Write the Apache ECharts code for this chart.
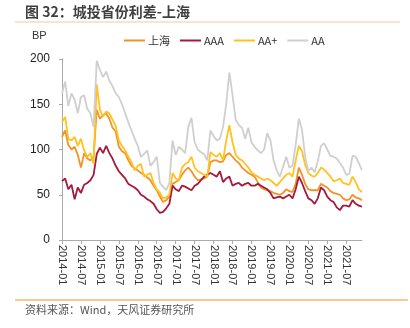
<!DOCTYPE html>
<html>
<head>
<meta charset="utf-8">
<script src="https://cdn.jsdelivr.net/npm/echarts@6/dist/echarts.min.js"></script>
<style>html,body{margin:0;padding:0;background:#fff;}#c{width:410px;height:328px;}</style>
</head>
<body>
<div id="c"></div>
<script>
// monthly categories 2014-01 .. 2021-12
const months = [];
for (let y = 2014; y <= 2021; y++) for (let m = 1; m <= 12; m++) months.push(y + '-' + (m < 10 ? '0' + m : m));

const seriesNames = ['上海', 'AAA', 'AA+', 'AA'];

const shanghai = [114,121,105,100,103,94,80,96,90,88,92,144,134,138,140,134,124,120,103,98,96,88,82,79,
  77,74,72,69,66,60,55,48,42,44,48,62,64,66,72,77,80,76,70,66,67,68,70,86,
  88,88,86,87,94,96,92,88,85,80,77,74,72,70,64,58,56,55,54,52,51,50,52,56,
  54,53,62,80,72,62,56,55,55,55,62,60,58,54,52,51,50,46,44,45,50,47,46,44];

const aaa = [65,68,56,61,45,58,52,61,63,66,72,95,102,96,104,96,90,82,76,72,68,62,60,58,
  55,50,48,45,43,40,34,30,31,35,40,60,56,54,60,59,57,55,60,62,66,70,72,74,
  72,70,76,64,68,70,60,62,63,60,62,63,60,60,62,60,58,56,52,46,47,48,46,48,
  50,46,56,70,63,54,46,44,40,46,58,55,48,44,42,36,33,38,38,37,44,40,38,37];

const aaPlus = [130,136,112,110,114,104,112,99,92,96,84,172,144,136,142,140,133,126,110,104,99,92,86,77,
  82,84,70,72,74,63,56,52,46,47,50,74,68,66,80,84,86,92,80,76,74,72,70,97,
  94,92,96,88,110,127,108,94,90,88,84,80,75,72,70,68,66,68,66,63,60,64,68,72,
  74,70,88,104,98,83,74,71,70,74,80,78,74,70,65,66,68,63,62,61,70,64,56,53];

const aa = [162,175,148,162,155,140,158,160,145,140,125,198,188,180,186,176,170,162,158,150,140,130,121,112,
  104,92,95,99,82,86,92,63,59,55,63,110,94,103,100,96,125,135,108,100,97,95,88,121,
  115,110,112,125,150,185,160,133,127,124,112,124,108,103,99,96,100,118,110,88,77,70,81,92,
  80,82,105,134,122,92,76,80,75,87,104,107,100,93,92,90,85,80,72,73,93,92,85,77];

const yTicks = [0, 50, 100, 150, 200];
const colors = ['#F39226', '#A31A3C', '#FFC21E', '#CFCFCF'];

const chart = echarts.init(document.getElementById('c'), null, {renderer: 'canvas'});
const dataSets = [shanghai, aaa, aaPlus, aa];

chart.setOption({
  animation: false,
  textStyle: {fontFamily: '"Noto Sans CJK SC", "Noto Sans", sans-serif'},
  grid: {left: 62, right: 48, top: 59, bottom: 88, containLabel: false},
  legend: {
    data: seriesNames,
    top: 30, left: 119,
    icon: 'rect', itemWidth: 21, itemHeight: 2, itemGap: 10,
    textStyle: {fontSize: 11, color: '#333', padding: [0, 0, 0, -2]}
  },
  xAxis: {
    type: 'category', data: months, boundaryGap: false,
    axisLine: {lineStyle: {color: '#AAAAAA', width: 1}},
    axisTick: {show: true, interval: 5, length: 4, lineStyle: {color: '#AAAAAA'}},
    axisLabel: {interval: 5, rotate: -90, fontSize: 11, color: '#333', margin: 5,
      fontFamily: 'Arial, "Liberation Sans", sans-serif'},
    splitLine: {show: false}
  },
  yAxis: {
    type: 'value', min: yTicks[0], max: yTicks[yTicks.length - 1], interval: 50,
    axisLine: {show: true, lineStyle: {color: '#AAAAAA', width: 1}},
    axisTick: {show: true, length: 3, lineStyle: {color: '#AAAAAA'}},
    axisLabel: {fontSize: 12, color: '#222', margin: 12,
      fontFamily: 'Arial, "Liberation Sans", sans-serif'},
    splitLine: {show: false}
  },
  series: seriesNames.map((n, k) => ({
    name: n, type: 'line', data: dataSets[k], showSymbol: false, symbol: 'none',
    lineStyle: {color: colors[k], width: 1.8}, itemStyle: {color: colors[k]}
  })),
  graphic: [
    {type: 'text', left: 25, top: 5, style: {text: '图 32：城投省份利差-上海', fontSize: 14, fontWeight: 'bold',
      fill: '#3F3F3F', fontFamily: '"Noto Sans CJK SC", sans-serif'}},
    {type: 'line', shape: {x1: 15, y1: 22, x2: 400, y2: 22}, style: {stroke: '#F8C99A', lineWidth: 1.2}},
    {type: 'text', left: 32, top: 30, style: {text: 'BP', fontSize: 11, fill: '#333',
      fontFamily: 'Arial, "Liberation Sans", sans-serif'}},
    {type: 'line', shape: {x1: 15, y1: 300, x2: 408, y2: 300}, style: {stroke: '#F39226', lineWidth: 1}},
    {type: 'text', left: 25, top: 304, style: {text: '资料来源：Wind，天风证券研究所', fontSize: 11, fill: '#555',
      fontFamily: '"Noto Sans CJK SC", sans-serif'}}
  ]
});
</script>
</body>
</html>
